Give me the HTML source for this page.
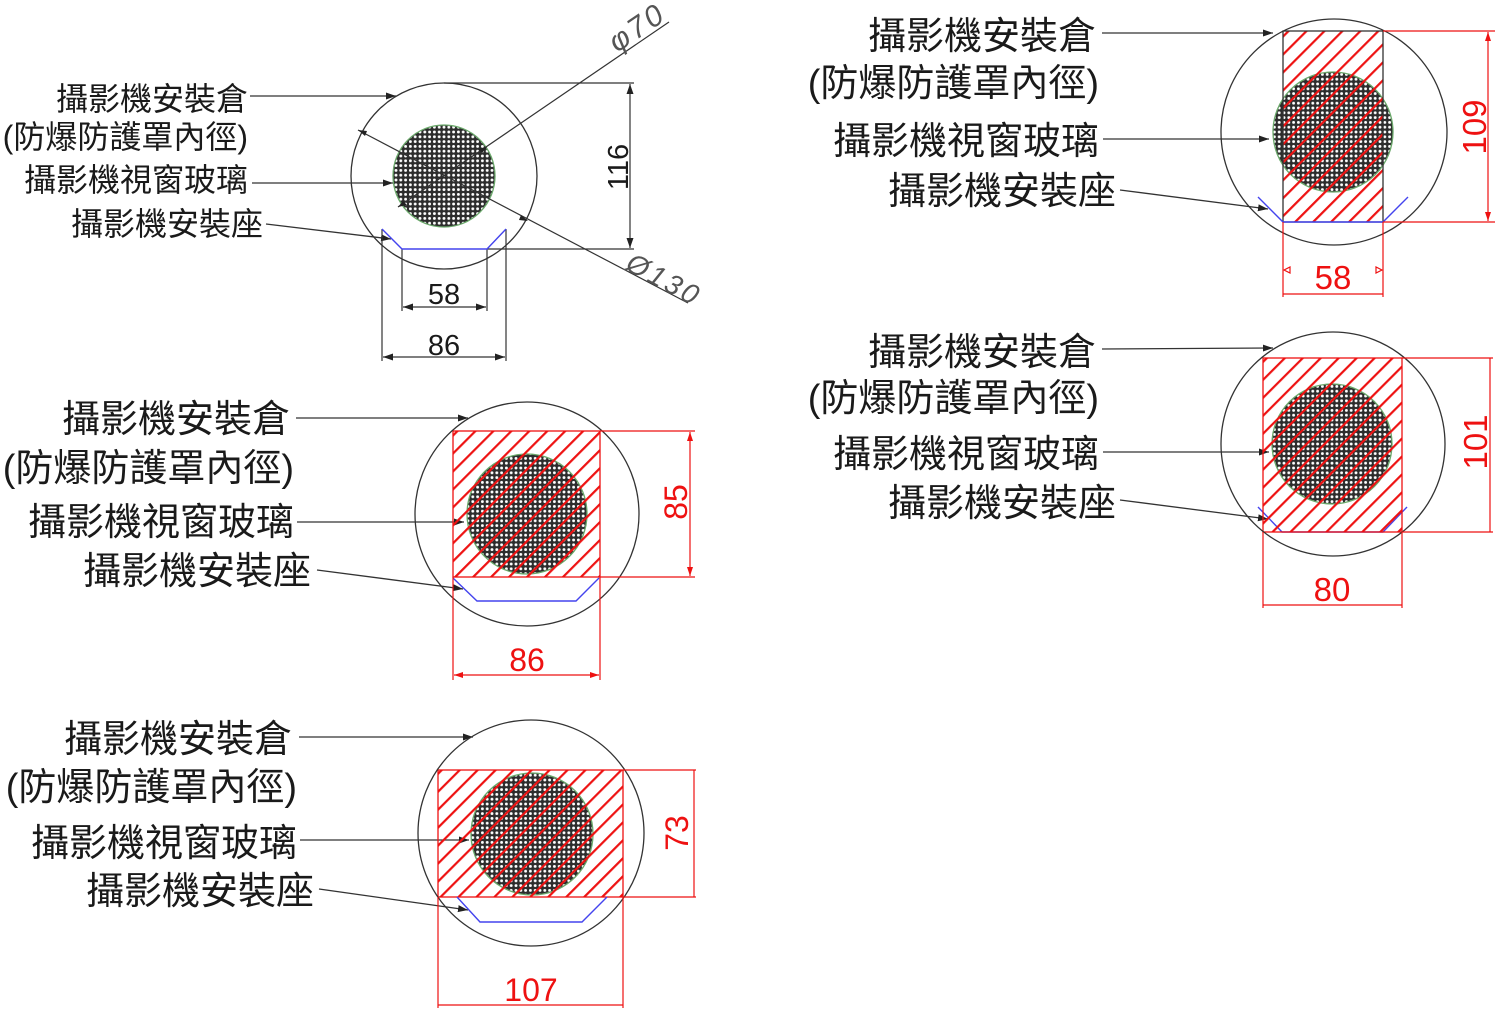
<!DOCTYPE html>
<html><head><meta charset="utf-8"><style>
html,body{margin:0;padding:0;background:#fff;}
svg{display:block;}
.lb{font-family:"Liberation Sans","Noto Sans CJK TC",sans-serif;fill:#1a1a1a;text-anchor:end;}
.num{font-family:"Liberation Sans",sans-serif;fill:#1a1a1a;text-anchor:middle;}
.rn{font-family:"Liberation Sans",sans-serif;fill:#ee1111;text-anchor:middle;}
</style></head><body>
<svg width="1500" height="1014" viewBox="0 0 1500 1014" xmlns="http://www.w3.org/2000/svg">
<defs>
<pattern id="mesh" width="4.8" height="4.8" patternUnits="userSpaceOnUse">
<rect width="4.8" height="4.8" fill="#2c2c2c"/><circle cx="2.4" cy="2.4" r="1.45" fill="#fff"/>
</pattern>
<pattern id="hatch" width="12.7" height="12.7" patternUnits="userSpaceOnUse" patternTransform="rotate(45)">
<line x1="6" y1="-1" x2="6" y2="14" stroke="#ee1111" stroke-width="2.2"/>
</pattern>
<marker id="ak" markerUnits="userSpaceOnUse" markerWidth="11" markerHeight="8" refX="10" refY="3.5" orient="auto-start-reverse">
<path d="M0,0 L10,3.5 L0,7 z" fill="#222"/>
</marker>
<marker id="ar" markerUnits="userSpaceOnUse" markerWidth="10" markerHeight="8" refX="9" refY="3" orient="auto-start-reverse">
<path d="M0,0 L9,3 L0,6 z" fill="#ee1111"/>
</marker>
</defs>

<!-- ============ Diagram A (top-left) ============ -->
<g class="lb" font-size="32">
<text x="248" y="110">攝影機安裝倉</text>
<text x="248" y="148">(防爆防護罩內徑)</text>
<text x="248" y="191">攝影機視窗玻璃</text>
<text x="263" y="235">攝影機安裝座</text>
</g>
<g stroke="#333" stroke-width="1.3" fill="none">
<line x1="250" y1="96" x2="396" y2="96" marker-end="url(#ak)"/>
<line x1="252" y1="183" x2="393" y2="183" marker-end="url(#ak)"/>
<line x1="266" y1="224" x2="391" y2="239" marker-end="url(#ak)"/>
</g>
<circle cx="444" cy="176" r="51" fill="url(#mesh)" stroke="#6aa86a" stroke-width="1.3"/>
<circle cx="444" cy="176" r="93" fill="none" stroke="#333" stroke-width="1.3"/>
<g stroke="#333" stroke-width="1.2" fill="none">
<line x1="398" y1="207" x2="669" y2="22"/>
<line x1="358" y1="130" x2="688" y2="303"/>
<line x1="444" y1="83" x2="634" y2="83"/>
<line x1="487" y1="249" x2="634" y2="249"/>
<line x1="630" y1="84" x2="630" y2="248" marker-start="url(#ak)" marker-end="url(#ak)"/>
<line x1="382" y1="229" x2="382" y2="361"/>
<line x1="506" y1="229" x2="506" y2="361"/>
<line x1="402" y1="249" x2="402" y2="311"/>
<line x1="487" y1="249" x2="487" y2="311"/>
<line x1="403" y1="307" x2="486" y2="307" marker-start="url(#ak)" marker-end="url(#ak)"/>
<line x1="383" y1="357" x2="505" y2="357" marker-start="url(#ak)" marker-end="url(#ak)"/>
</g>
<g fill="#222">
<path d="M487,147 l-9,2 l4,4 z"/>
<path d="M398,207 l9,-2 l-4,-4 z"/>
<path d="M358,130 l9,1 l-2,5 z"/>
<path d="M528,221 l-9,-1 l2,-5 z"/>
</g>
<polyline points="382,229 402,249 487,249 506,229" fill="none" stroke="#4444ee" stroke-width="1.4"/>
<text class="num" font-size="29" x="444" y="304">58</text>
<text class="num" font-size="29" x="444" y="355">86</text>
<text class="num" font-size="29" transform="translate(628,167) rotate(-90)">116</text>
<text font-family="Liberation Sans, sans-serif" font-style="italic" font-size="30" fill="#555" letter-spacing="3" transform="translate(617,53) rotate(-34)">φ70</text>
<text font-family="Liberation Sans, sans-serif" font-style="italic" font-size="28" fill="#555" letter-spacing="3" transform="translate(624,269) rotate(28)">Ø130</text>

<!-- ============ Diagram B (middle-left) ============ -->
<g class="lb" font-size="38">
<text x="290" y="432">攝影機安裝倉</text>
<text x="294" y="481">(防爆防護罩內徑)</text>
<text x="294" y="535">攝影機視窗玻璃</text>
<text x="311" y="584">攝影機安裝座</text>
</g>
<g stroke="#333" stroke-width="1.3" fill="none">
<line x1="296" y1="418" x2="468" y2="418" marker-end="url(#ak)"/>
<line x1="297" y1="522" x2="464" y2="522" marker-end="url(#ak)"/>
<line x1="317" y1="570" x2="463" y2="589" marker-end="url(#ak)"/>
</g>
<circle cx="527" cy="514" r="60" fill="url(#mesh)" stroke="#6aa86a" stroke-width="1.3"/>
<rect x="453" y="431" width="147" height="146" fill="url(#hatch)" stroke="#ee1111" stroke-width="1.3"/>
<circle cx="527" cy="514" r="112" fill="none" stroke="#333" stroke-width="1.3"/>
<polyline points="453,578 477,601 576,601 599,578" fill="none" stroke="#4444ee" stroke-width="1.4"/>
<g stroke="#ee1111" stroke-width="1.2" fill="none">
<line x1="600" y1="431" x2="695" y2="431"/>
<line x1="600" y1="577" x2="695" y2="577"/>
<line x1="690" y1="432" x2="690" y2="576" marker-start="url(#ar)" marker-end="url(#ar)"/>
<line x1="453" y1="577" x2="453" y2="680"/>
<line x1="600" y1="577" x2="600" y2="680"/>
<line x1="454" y1="675" x2="599" y2="675" marker-start="url(#ar)" marker-end="url(#ar)"/>
</g>
<text class="rn" font-size="32" x="527" y="671">86</text>
<text class="rn" font-size="32" transform="translate(687,502) rotate(-90)">85</text>

<!-- ============ Diagram C (bottom-left) ============ -->
<g class="lb" font-size="38">
<text x="292" y="752">攝影機安裝倉</text>
<text x="297" y="800">(防爆防護罩內徑)</text>
<text x="297" y="856">攝影機視窗玻璃</text>
<text x="314" y="904">攝影機安裝座</text>
</g>
<g stroke="#333" stroke-width="1.3" fill="none">
<line x1="299" y1="737" x2="473" y2="737" marker-end="url(#ak)"/>
<line x1="300" y1="840" x2="469" y2="840" marker-end="url(#ak)"/>
<line x1="319" y1="889" x2="468" y2="910" marker-end="url(#ak)"/>
</g>
<circle cx="532" cy="834" r="61" fill="url(#mesh)" stroke="#6aa86a" stroke-width="1.3"/>
<rect x="438" y="770" width="185" height="127" fill="url(#hatch)" stroke="#ee1111" stroke-width="1.3"/>
<circle cx="531" cy="833" r="113" fill="none" stroke="#333" stroke-width="1.3"/>
<polyline points="457,897 480,922 582,922 607,897" fill="none" stroke="#4444ee" stroke-width="1.4"/>
<g stroke="#ee1111" stroke-width="1.2" fill="none">
<line x1="623" y1="770" x2="696" y2="770"/>
<line x1="623" y1="897" x2="696" y2="897"/>
<line x1="694" y1="770" x2="694" y2="897"/>
<line x1="438" y1="897" x2="438" y2="1008"/>
<line x1="623" y1="897" x2="623" y2="1008"/>
<line x1="438" y1="1005" x2="623" y2="1005"/>
</g>
<text class="rn" font-size="32" x="531" y="1001">107</text>
<text class="rn" font-size="32" transform="translate(688,833) rotate(-90)">73</text>

<!-- ============ Diagram D (top-right) ============ -->
<g class="lb" font-size="38">
<text x="1096" y="49">攝影機安裝倉</text>
<text x="1099" y="96">(防爆防護罩內徑)</text>
<text x="1099" y="154">攝影機視窗玻璃</text>
<text x="1116" y="204">攝影機安裝座</text>
</g>
<g stroke="#333" stroke-width="1.3" fill="none">
<line x1="1102" y1="33" x2="1273" y2="33" marker-end="url(#ak)"/>
<line x1="1103" y1="139" x2="1269" y2="139" marker-end="url(#ak)"/>
<line x1="1120" y1="190" x2="1268" y2="209" marker-end="url(#ak)"/>
</g>
<circle cx="1333" cy="132" r="60" fill="url(#mesh)" stroke="#6aa86a" stroke-width="1.3"/>
<rect x="1283" y="31" width="100" height="191" fill="url(#hatch)" stroke="#333" stroke-width="1.3"/>
<circle cx="1334" cy="132" r="113" fill="none" stroke="#333" stroke-width="1.3"/>
<polyline points="1258,197 1283,222 1383,222 1408,197" fill="none" stroke="#4444ee" stroke-width="1.4"/>
<g stroke="#ee1111" stroke-width="1.2" fill="none">
<line x1="1383" y1="31" x2="1495" y2="31"/>
<line x1="1383" y1="222" x2="1495" y2="222"/>
<line x1="1488" y1="32" x2="1488" y2="221" marker-start="url(#ar)" marker-end="url(#ar)"/>
<line x1="1283" y1="222" x2="1283" y2="297"/>
<line x1="1383" y1="222" x2="1383" y2="297"/>
<line x1="1283" y1="294" x2="1383" y2="294"/>
<path d="M1284,270 l6,-3 l0,6 z M1382,270 l-6,-3 l0,6 z"/>
</g>
<text class="rn" font-size="33" x="1333" y="289">58</text>
<text class="rn" font-size="33" transform="translate(1486,127) rotate(-90)">109</text>

<!-- ============ Diagram E (middle-right) ============ -->
<g class="lb" font-size="38">
<text x="1096" y="365">攝影機安裝倉</text>
<text x="1099" y="411">(防爆防護罩內徑)</text>
<text x="1099" y="467">攝影機視窗玻璃</text>
<text x="1116" y="516">攝影機安裝座</text>
</g>
<g stroke="#333" stroke-width="1.3" fill="none">
<line x1="1102" y1="349" x2="1273" y2="348" marker-end="url(#ak)"/>
<line x1="1103" y1="452" x2="1269" y2="452" marker-end="url(#ak)"/>
<line x1="1120" y1="500" x2="1268" y2="519" marker-end="url(#ak)"/>
</g>
<circle cx="1332" cy="444" r="60" fill="url(#mesh)" stroke="#6aa86a" stroke-width="1.3"/>
<polyline points="1258,507 1282,532 1383,532 1407,507" fill="none" stroke="#4444ee" stroke-width="1.4"/>
<rect x="1263" y="358" width="139" height="174" fill="url(#hatch)" stroke="#ee1111" stroke-width="1.3"/>
<circle cx="1333" cy="444" r="112" fill="none" stroke="#333" stroke-width="1.3"/>
<g stroke="#ee1111" stroke-width="1.2" fill="none">
<line x1="1402" y1="358" x2="1493" y2="358"/>
<line x1="1402" y1="532" x2="1493" y2="532"/>
<line x1="1490" y1="358" x2="1490" y2="532"/>
<line x1="1263" y1="532" x2="1263" y2="608"/>
<line x1="1402" y1="532" x2="1402" y2="608"/>
<line x1="1263" y1="605" x2="1402" y2="605"/>
</g>
<text class="rn" font-size="33" x="1332" y="601">80</text>
<text class="rn" font-size="33" transform="translate(1487,442) rotate(-90)">101</text>
</svg>
</body></html>
